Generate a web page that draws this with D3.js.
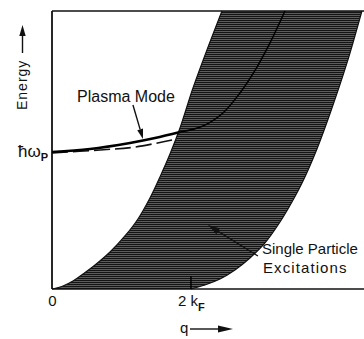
<!DOCTYPE html>
<html>
<head>
<meta charset="utf-8">
<script src="https://cdn.jsdelivr.net/npm/d3@7"></script>
<style>
  body { margin: 0; background: #fff; }
  text { font-family: "Liberation Sans", Arial, sans-serif; fill: #111; }
</style>
</head>
<body>
<script>
// q in units of kF, energy in units of hbar*omega_p
var upperEdgeQ = [0, 0.158, 0.302, 0.446, 0.619, 0.835, 1.050, 1.237, 1.410, 1.554, 1.698, 1.842, 2.029, 2.230, 2.446];
var upperEdgeE = [0, 0.022, 0.058, 0.109, 0.175, 0.270, 0.387, 0.511, 0.664, 0.818, 0.985, 1.175, 1.467, 1.745, 2.029];
var lowerEdgeQ = [2.000, 2.201, 2.417, 2.633, 2.849, 3.065, 3.281, 3.453, 3.612, 3.813, 4.014, 4.245, 4.460];
var lowerEdgeE = [0, 0.029, 0.073, 0.139, 0.226, 0.336, 0.489, 0.635, 0.788, 1.022, 1.299, 1.650, 2.029];
var plasmaQ = [0, 0.547, 1.122, 1.482, 1.842, 2.173, 2.460, 2.705, 2.950, 3.137, 3.353];
var plasmaE = [1.000, 1.022, 1.066, 1.102, 1.146, 1.190, 1.285, 1.431, 1.620, 1.796, 2.029];
var dashedQ = [0, 0.691, 1.194, 1.727];
var dashedE = [0.993, 1.015, 1.036, 1.088];
var xTicks = [0, 2];
var xTickLabels = [["0", ""], ["2 k", "F"]];
var yTicks = [1];
var yTickLabels = [["\u0127\u03c9", "P"]];
var bandEdgeQ = 1.842; // where the plasma mode enters the continuum

var w = 364, h = 339;
var mLeft = 52, mRight = 364, mTop = 11, mBottom = 289;

var svg = d3.select("body").append("svg")
    .attr("width", w)
    .attr("height", h);

var x = d3.scaleLinear().domain([0, 4.49]).range([mLeft, mRight]);
var y = d3.scaleLinear().domain([0, 2.029]).range([mBottom, mTop]);

function pts(qs, es) {
    return qs.map(function(q, i){ return [q, es[i]]; });
}

var upper = pts(upperEdgeQ, upperEdgeE);
var lower = pts(lowerEdgeQ, lowerEdgeE);
var plasma = pts(plasmaQ, plasmaE);
var dashed = pts(dashedQ, dashedE);

var line = d3.line()
    .x(function(d){ return x(d[0]); })
    .y(function(d){ return y(d[1]); })
    .curve(d3.curveCatmullRom);

// hatched fill for the continuum
var pat = svg.append("defs").append("pattern")
    .attr("id", "hatch")
    .attr("patternUnits", "userSpaceOnUse")
    .attr("width", 4).attr("height", 2);
pat.append("rect").attr("width", 4).attr("height", 2).attr("fill", "#5c5c5c");
pat.append("rect").attr("width", 4).attr("height", 1).attr("fill", "#141414");

var bandPath = line(upper) + "L" + line(lower.slice().reverse()).slice(1) + "Z";
svg.append("path")
    .attr("d", bandPath)
    .attr("fill", "url(#hatch)")
    .attr("stroke", "none");

svg.append("path").attr("d", line(upper))
    .attr("fill", "none").attr("stroke", "#111").attr("stroke-width", 1.2);
svg.append("path").attr("d", line(lower))
    .attr("fill", "none").attr("stroke", "#111").attr("stroke-width", 1.2);

// axes frame
svg.append("line").attr("x1", x(0)).attr("x2", mRight).attr("y1", y(0)).attr("y2", y(0))
    .attr("stroke", "#111").attr("stroke-width", 1.6);
svg.append("line").attr("x1", x(0)).attr("x2", mRight).attr("y1", mTop).attr("y2", mTop)
    .attr("stroke", "#111").attr("stroke-width", 1.6);
svg.append("line").attr("x1", x(0)).attr("x2", x(0)).attr("y1", mTop).attr("y2", mBottom)
    .attr("stroke", "#111").attr("stroke-width", 1.8);

// tick at 2kF
svg.append("line").attr("x1", x(2)).attr("x2", x(2)).attr("y1", y(0)).attr("y2", y(0) - 13)
    .attr("stroke", "#000").attr("stroke-width", 1.5);

// dashed curve
svg.append("path").attr("d", line(dashed))
    .attr("fill", "none").attr("stroke", "#111").attr("stroke-width", 1.6)
    .attr("stroke-dasharray", "16,5");

// plasma mode
svg.append("path").attr("d", line(plasma.filter(function(d){ return d[0] <= bandEdgeQ; })))
    .attr("fill", "none").attr("stroke", "#000").attr("stroke-width", 2.6);
svg.append("path").attr("d", line(plasma.filter(function(d){ return d[0] >= bandEdgeQ; })))
    .attr("fill", "none").attr("stroke", "#000").attr("stroke-width", 1.5);

// x axis labels
var xAxis = svg.append("g")
    .attr("transform", "translate(0," + y(0) + ")")
    .call(d3.axisBottom(x).tickValues(xTicks).tickSize(0).tickPadding(0).tickFormat(""));
xAxis.select(".domain").remove();
xAxis.selectAll(".tick text")
    .attr("y", 17)
    .attr("dy", 0)
    .style("font-size", "15px")
    .each(function(d, i){
        var t = d3.select(this);
        t.append("tspan").text(xTickLabels[i][0]);
        if (xTickLabels[i][1]) t.append("tspan").attr("dy", 5).style("font-size", "11px").style("font-weight", "bold").text(xTickLabels[i][1]);
    });

// y axis label
var yAxis = svg.append("g")
    .attr("transform", "translate(" + x(0) + ",0)")
    .call(d3.axisLeft(y).tickValues(yTicks).tickSize(0).tickPadding(4).tickFormat(""));
yAxis.select(".domain").remove();
yAxis.selectAll(".tick text")
    .attr("dy", 5)
    .style("font-size", "17px")
    .each(function(d, i){
        var t = d3.select(this);
        t.append("tspan").text(yTickLabels[i][0]);
        t.append("tspan").attr("dy", 4).style("font-size", "11px").style("font-weight", "bold").text(yTickLabels[i][1]);
    });

// axis titles with arrows
function arrow(x1, y1, x2, y2, len, half) {
    var a = Math.atan2(y2 - y1, x2 - x1);
    var bx = x2 - len * Math.cos(a), by = y2 - len * Math.sin(a);
    svg.append("line").attr("x1", x1).attr("y1", y1).attr("x2", bx).attr("y2", by)
        .attr("stroke", "#111").attr("stroke-width", 1.4);
    var p1 = [bx + half * Math.sin(a), by - half * Math.cos(a)];
    var p2 = [bx - half * Math.sin(a), by + half * Math.cos(a)];
    svg.append("path").attr("d", "M" + x2 + "," + y2 + "L" + p1 + "L" + p2 + "Z").attr("fill", "#111");
}

svg.append("text")
    .attr("transform", "translate(27,110) rotate(-90)")
    .style("font-size", "14px")
    .style("letter-spacing", "1px")
    .text("Energy");
arrow(22.5, 53, 22.5, 25, 11, 3.2);

svg.append("text").attr("x", 180).attr("y", 333).style("font-size", "15px").text("q");
arrow(190, 329, 233, 329, 15, 3.5);

// annotations (data units)
svg.append("text").attr("x", x(0.36)).attr("y", y(1.365))
    .style("font-size", "16px").text("Plasma Mode");
arrow(x(1.165), y(1.343), x(1.309), y(1.095), 10, 3);

svg.append("text").attr("x", x(3.022)).attr("y", y(0.255))
    .style("font-size", "15px").text("Single Particle");
svg.append("text").attr("x", x(3.036)).attr("y", y(0.117))
    .style("font-size", "15px").style("letter-spacing", "1.1px").text("Excitations");
arrow(x(2.964), y(0.241), x(2.245), y(0.467), 12, 3.5);
</script>
</body>
</html>
